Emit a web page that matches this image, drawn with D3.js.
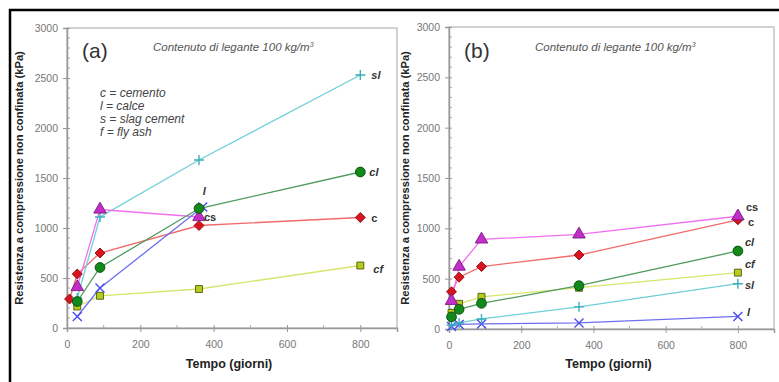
<!DOCTYPE html>
<html>
<head>
<meta charset="utf-8">
<script src="https://cdn.jsdelivr.net/npm/d3@7"></script>
<style>
  body { margin: 0; background: #fff; }
  svg { display: block; font-family: "Liberation Sans", Arial, sans-serif; }
</style>
</head>
<body>
<div id="chart"></div>
<script>
// tick labels
var xTicks = [0, 200, 400, 600, 800];
var yTicks = [0, 500, 1000, 1500, 2000, 2500, 3000];
var legendLines = ["c = cemento", "l = calce", "s = slag cement", "f = fly ash"];

// panel (a) [giorni, kPa]
var a_c  = [[7, 290], [28, 540], [90, 750], [360, 1025], [800, 1105]];
var a_cs = [[28, 410], [90, 1185], [360, 1110]];
var a_sl = [[28, 300], [90, 1110], [360, 1680], [800, 2530]];
var a_cl = [[28, 265], [90, 605], [360, 1195], [800, 1560]];
var a_l  = [[28, 115], [90, 400], [370, 1210]];
var a_cf = [[28, 215], [90, 322], [360, 390], [800, 625]];

// panel (b) [giorni, kPa]
var b_c  = [[7, 370], [28, 515], [90, 620], [360, 735], [800, 1085]];
var b_cs = [[7, 280], [28, 620], [90, 890], [360, 940], [800, 1120]];
var b_sl = [[7, 40], [28, 60], [90, 100], [360, 220], [800, 450]];
var b_cl = [[7, 120], [28, 195], [90, 255], [360, 430], [800, 775]];
var b_l  = [[7, 25], [28, 45], [90, 50], [360, 60], [800, 125]];
var b_cf = [[7, 160], [28, 250], [90, 320], [360, 410], [800, 560]];

var W = 779, H = 382;
var svg = d3.select("#chart").append("svg")
    .attr("width", W)
    .attr("height", H);

// outer frame (only top and left visible)
svg.append("line").attr("x1", 9).attr("x2", W).attr("y1", 10).attr("y2", 10)
    .attr("stroke", "#000").attr("stroke-width", 2.5);
svg.append("line").attr("x1", 10).attr("x2", 10).attr("y1", 9).attr("y2", H)
    .attr("stroke", "#000").attr("stroke-width", 2.5);

// marker styles for each series
var styles = {
    c:  {line: "#f26a6a", fill: "#d8141e", stroke: "#8a0a10", shape: "diamond"},
    cs: {line: "#f070f0", fill: "#c22ec8", stroke: "#7a1a80", shape: "triangle"},
    sl: {line: "#6fcfd6", fill: "none", stroke: "#3aaebc", shape: "plus"},
    cl: {line: "#4f9a5e", fill: "#128a1a", stroke: "#0a4a0e", shape: "circle"},
    l:  {line: "#6f6ff2", fill: "none", stroke: "#4a4aee", shape: "times"},
    cf: {line: "#d8e46a", fill: "#b8cc1e", stroke: "#4a5a08", shape: "square"}
};

function markerPath(shape) {
    if (shape === "diamond") return "M0,-5L5,0L0,5L-5,0Z";
    if (shape === "triangle") return d3.symbol(d3.symbolTriangle, 68)();
    if (shape === "circle") return d3.symbol(d3.symbolCircle, 75)();
    if (shape === "square") return d3.symbol(d3.symbolSquare, 48)();
    if (shape === "plus") return "M-5,0H5M0,-5V5";
    return "M-4.5,-4.5L4.5,4.5M-4.5,4.5L4.5,-4.5";
}

function drawPanel(cfg) {
    var x = d3.scaleLinear().domain([0, 900]).range([cfg.left, cfg.right]);
    var y = d3.scaleLinear().domain([0, 3000]).range([cfg.bottom, cfg.top]);
    var g = svg.append("g");

    // plot box
    g.append("rect")
        .attr("x", cfg.left).attr("y", cfg.top)
        .attr("width", cfg.right - cfg.left).attr("height", cfg.bottom - cfg.top)
        .attr("fill", "none").attr("stroke", "#b4b4b4").attr("stroke-width", 1.2);

    // minor ticks
    g.selectAll(".ymin").data(d3.range(100, 3000, 100).filter(function(v) { return v % 500; }))
        .enter().append("line")
        .attr("x1", cfg.left).attr("x2", cfg.left + 3)
        .attr("y1", function(d) { return y(d); }).attr("y2", function(d) { return y(d); })
        .attr("stroke", "#aaa");
    g.selectAll(".xmin").data([100, 300, 500, 700])
        .enter().append("line")
        .attr("x1", function(d) { return x(d); }).attr("x2", function(d) { return x(d); })
        .attr("y1", cfg.bottom).attr("y2", cfg.bottom - 3)
        .attr("stroke", "#aaa");

    // axes
    var yAxis = g.append("g")
        .attr("transform", "translate(" + cfg.left + ",0)")
        .call(d3.axisLeft(y).tickValues(yTicks).tickSize(4).tickPadding(5).tickFormat(d3.format("d")));
    var xAxis = g.append("g")
        .attr("transform", "translate(0," + cfg.bottom + ")")
        .call(d3.axisBottom(x).tickValues(xTicks).tickSize(4).tickPadding(9).tickFormat(d3.format("d")));
    [yAxis, xAxis].forEach(function(ax) {
        ax.select(".domain").attr("stroke", "#999").attr("stroke-width", 1.5);
        ax.selectAll(".tick line").attr("stroke", "#999");
        ax.selectAll(".tick text").attr("fill", "#777").attr("font-size", 10.5)
            .attr("font-family", "Liberation Sans, Arial, sans-serif");
    });
    xAxis.selectAll(".tick line").attr("y1", -3);
    yAxis.selectAll(".tick line").attr("x2", 3).attr("x1", -4);

    // axis titles
    g.append("text")
        .attr("transform", "translate(" + cfg.ylabX + "," + ((cfg.top + cfg.bottom) / 2) + ") rotate(-90)")
        .attr("text-anchor", "middle").attr("font-weight", "bold").attr("font-size", 11.2)
        .attr("fill", "#222")
        .text("Resistenza a compressione non confinata (kPa)");
    g.append("text")
        .attr("x", (cfg.left + cfg.right) / 2 - 3).attr("y", 368)
        .attr("text-anchor", "middle").attr("font-weight", "bold").attr("font-size", 12.5)
        .attr("fill", "#222")
        .text("Tempo (giorni)");

    // panel letter and subtitle
    g.append("text")
        .attr("x", cfg.left + 15).attr("y", 58)
        .attr("font-size", 21).attr("fill", "#333")
        .text(cfg.name);
    var sub = g.append("text")
        .attr("x", cfg.left + 86).attr("y", 51)
        .attr("font-size", 11.5).attr("font-style", "italic").attr("fill", "#555");
    sub.append("tspan").text("Contenuto di legante 100 kg/m");
    sub.append("tspan").attr("dy", -4).attr("font-size", 7).text("3");

    var line = d3.line()
        .x(function(d) { return x(d[0]); })
        .y(function(d) { return y(d[1]); });

    // lines first, then markers
    cfg.series.forEach(function(s) {
        g.append("path").datum(s.data)
            .attr("d", line)
            .attr("fill", "none")
            .attr("stroke", styles[s.key].line)
            .attr("stroke-width", 1.3);
    });
    cfg.series.forEach(function(s) {
        var st = styles[s.key];
        g.selectAll(null).data(s.data).enter().append("path")
            .attr("transform", function(d) { return "translate(" + x(d[0]) + "," + y(d[1]) + ")"; })
            .attr("d", markerPath(st.shape))
            .attr("fill", st.fill)
            .attr("stroke", st.stroke)
            .attr("stroke-width", st.fill === "none" ? 1.4 : 0.9);
    });

    // series labels
    cfg.labels.forEach(function(lb) {
        g.append("text")
            .attr("x", x(lb.at[0]) + lb.dx).attr("y", y(lb.at[1]) + lb.dy)
            .attr("font-size", 11).attr("font-weight", "bold")
            .attr("font-style", lb.italic ? "italic" : "normal")
            .attr("fill", "#333")
            .text(lb.text);
    });
}

drawPanel({
    name: "(a)", left: 67, right: 397, top: 28, bottom: 328, ylabX: 23,
    series: [
        {key: "cf", data: a_cf}, {key: "c", data: a_c}, {key: "sl", data: a_sl},
        {key: "cs", data: a_cs}, {key: "l", data: a_l}, {key: "cl", data: a_cl}
    ],
    labels: [
        {text: "sl", at: a_sl[3], dx: 11, dy: 4, italic: true},
        {text: "cl", at: a_cl[3], dx: 9, dy: 4, italic: true},
        {text: "c", at: a_c[4], dx: 11, dy: 4, italic: false},
        {text: "cf", at: a_cf[3], dx: 13, dy: 7, italic: true},
        {text: "cs", at: a_cs[2], dx: 5, dy: 4, italic: false},
        {text: "l", at: a_l[2], dx: 0, dy: -12, italic: true}
    ]
});

drawPanel({
    name: "(b)", left: 449, right: 774, top: 27, bottom: 329, ylabX: 409,
    series: [
        {key: "l", data: b_l}, {key: "sl", data: b_sl}, {key: "cf", data: b_cf},
        {key: "cl", data: b_cl}, {key: "c", data: b_c}, {key: "cs", data: b_cs}
    ],
    labels: [
        {text: "cs", at: b_cs[4], dx: 8, dy: -5, italic: false},
        {text: "c", at: b_c[4], dx: 10, dy: 6, italic: false},
        {text: "cl", at: b_cl[4], dx: 7, dy: -5, italic: true},
        {text: "cf", at: b_cf[4], dx: 7, dy: -5, italic: true},
        {text: "sl", at: b_sl[4], dx: 7, dy: 5, italic: true},
        {text: "l", at: b_l[4], dx: 9, dy: 0, italic: true}
    ]
});

// legend of abbreviations in panel (a)
svg.append("g").selectAll("text").data(legendLines).enter().append("text")
    .attr("x", 100)
    .attr("y", function(d, i) { return 97 + i * 13; })
    .attr("font-size", 12).attr("font-style", "italic").attr("fill", "#444")
    .text(function(d) { return d; });
</script>
</body>
</html>
